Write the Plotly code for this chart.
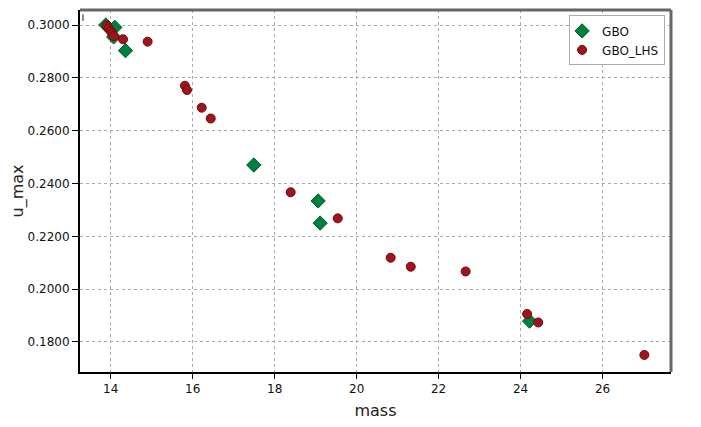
import plotly.graph_objects as go

gbo_mass = [13.88, 14.10, 14.07, 14.36, 17.49, 19.06, 19.11, 24.22]
gbo_umax = [0.3000, 0.2991, 0.2955, 0.2903, 0.2470, 0.2334, 0.2250, 0.1879]

lhs_mass = [13.90, 13.95, 14.00, 14.04, 14.07, 14.30, 14.90, 15.81, 15.86, 16.22, 16.44,
            18.39, 19.54, 20.83, 21.32, 22.66, 24.16, 24.43, 27.02]
lhs_umax = [0.2998, 0.2987, 0.2977, 0.2968, 0.2958, 0.2946, 0.2937, 0.2770, 0.2754, 0.2687, 0.2646,
            0.2367, 0.2268, 0.2119, 0.2085, 0.2067, 0.1906, 0.1874, 0.1751]

x_ticks = [14, 16, 18, 20, 22, 24, 26]
y_ticks = [0.18, 0.20, 0.22, 0.24, 0.26, 0.28, 0.30]
y_ticklabels = [f"{v:.4f}" for v in y_ticks]

fig = go.Figure()
fig.add_trace(go.Scatter(
    x=gbo_mass, y=gbo_umax, mode="markers", name="GBO",
    marker=dict(symbol="diamond", size=11, color="#008040",
                line=dict(color="#005a2a", width=1)),
))
fig.add_trace(go.Scatter(
    x=lhs_mass, y=lhs_umax, mode="markers", name="GBO_LHS",
    marker=dict(symbol="circle", size=9, color="#a0141b",
                line=dict(color="#6e0a0e", width=1)),
))

font_family = "DejaVu Sans, Verdana, sans-serif"
fig.update_layout(
    width=693, height=419,
    margin=dict(l=72, r=30, t=2, b=55),
    paper_bgcolor="white", plot_bgcolor="white",
    font=dict(family=font_family, color="#222"),
    showlegend=True,
    legend=dict(x=0.99, y=0.985, xanchor="right", yanchor="top",
                bgcolor="white", bordercolor="#aaa", borderwidth=1,
                font=dict(size=12, color="#111"), itemwidth=30,
                tracegroupgap=0, indentation=-8),
    xaxis=dict(
        range=[13.25, 27.67], tickvals=x_ticks, ticktext=[str(v) for v in x_ticks],
        showgrid=True, gridcolor="#aaaaaa", griddash="dot", gridwidth=1,
        showline=True, linecolor="black", linewidth=2,
        ticks="outside", ticklen=5, tickcolor="black", tickwidth=1,
        tickfont=dict(size=12, color="#111"),
        title=dict(text="mass", font=dict(size=16, color="#222"), standoff=9),
        zeroline=False, automargin=False,
    ),
    yaxis=dict(
        range=[0.16864, 0.30568], tickvals=y_ticks, ticktext=y_ticklabels,
        showgrid=True, gridcolor="#aaaaaa", griddash="dot", gridwidth=1,
        showline=True, linecolor="black", linewidth=2,
        ticks="outside", ticklen=6, tickcolor="black", tickwidth=1,
        tickfont=dict(size=12, color="#111"),
        title=dict(text="u_max", font=dict(size=16, color="#222"), standoff=10),
        zeroline=False, automargin=False,
    ),
    shapes=[
        dict(type="line", xref="paper", yref="paper", x0=0, x1=1, y0=1, y1=1,
             line=dict(color="#666", width=3)),
        dict(type="line", xref="paper", yref="paper", x0=1, x1=1, y0=0, y1=1,
             line=dict(color="#666", width=3)),
        dict(type="line", xref="paper", yref="paper", x0=0.005, x1=0.005, y0=0.97, y1=0.988,
             line=dict(color="#888", width=2)),
    ],
)

fig.write_html("out.html")
